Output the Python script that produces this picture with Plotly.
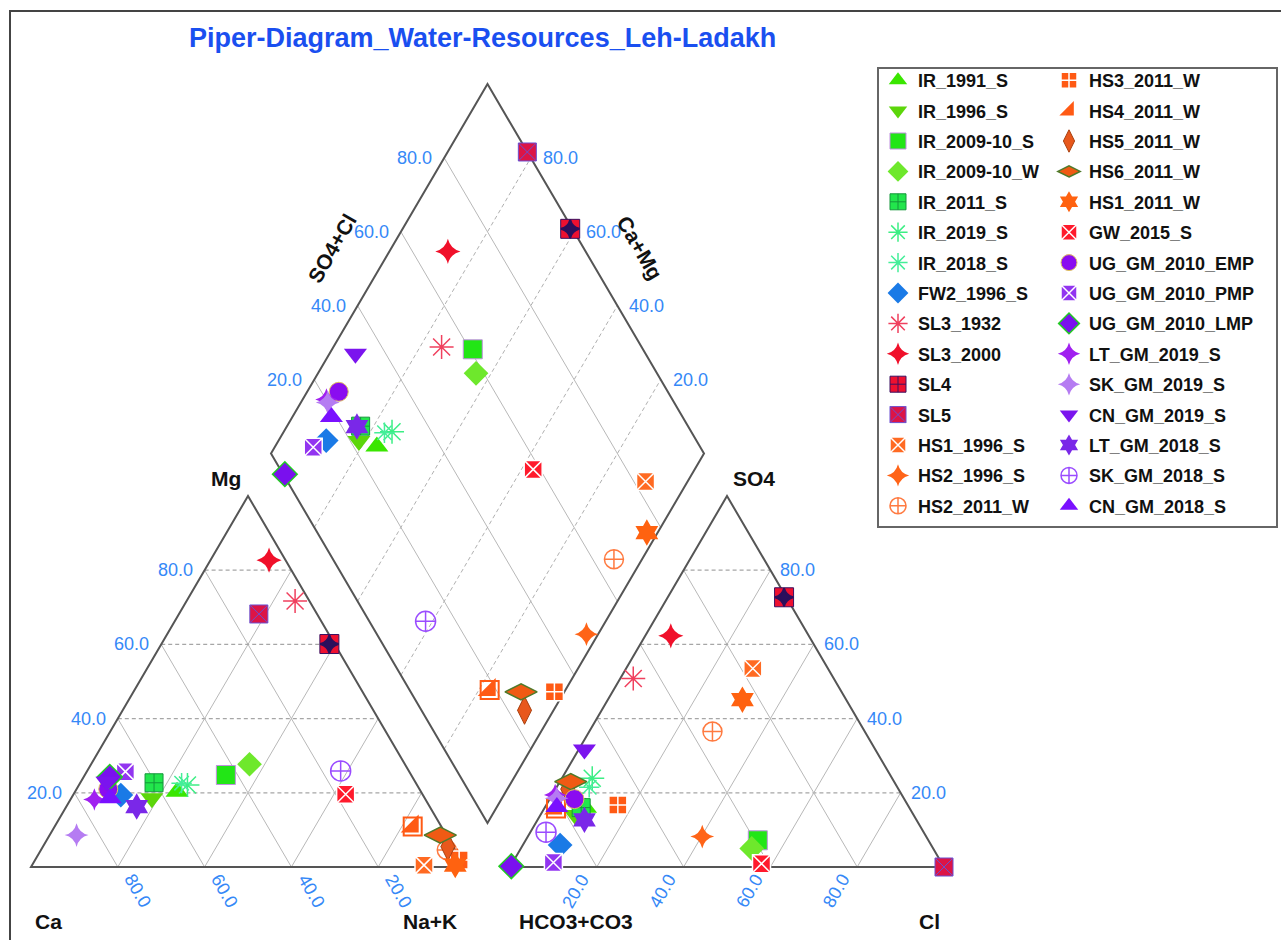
import plotly.graph_objects as go

# ---- sample chemistry (percent of meq/L) ----
names = [
    "IR_1991_S", "IR_1996_S", "IR_2009-10_S", "IR_2009-10_W", "IR_2011_S",
    "IR_2019_S", "IR_2018_S", "FW2_1996_S", "SL3_1932", "SL3_2000",
    "SL4", "SL5", "HS1_1996_S", "HS2_1996_S", "HS2_2011_W",
    "HS3_2011_W", "HS4_2011_W", "HS5_2011_W", "HS6_2011_W", "HS1_2011_W",
    "GW_2015_S", "UG_GM_2010_EMP", "UG_GM_2010_PMP", "UG_GM_2010_LMP", "LT_GM_2019_S",
    "SK_GM_2019_S", "CN_GM_2019_S", "LT_GM_2018_S", "SK_GM_2018_S", "CN_GM_2018_S",
]
# cations
ca = [56.2, 62.9, 42.7, 35.8, 60.3, 52.9, 54.0, 69.6, 3.3, 3.8,
      1.2, 13.4, 9.2, 0.7, 1.9, 0.4, 6.6, 1.2, 1.4, 2.0,
      17.7, 71.7, 65.4, 69.7, 76.3, 85.2, 71.0, 67.5, 15.7, 72.5]
mg = [20.3, 18.5, 24.8, 27.7, 22.7, 22.1, 22.6, 19.4, 71.7, 82.7,
      60.1, 68.2, 0.5, 2.0, 4.6, 1.9, 10.9, 5.5, 8.6, 0.5,
      19.6, 21.0, 25.7, 24.3, 18.2, 8.6, 23.0, 16.3, 25.9, 18.5]
na_k = [23.5, 18.6, 32.5, 36.5, 17.0, 25.0, 23.4, 11.0, 25.0, 13.5,
        38.7, 18.4, 90.3, 97.3, 93.5, 97.7, 82.5, 93.3, 90.0, 97.5,
        62.7, 7.3, 8.9, 6.0, 5.5, 6.2, 6.0, 16.2, 58.4, 9.0]
# anions
hco3_co3 = [74.6, 78.0, 39.3, 41.8, 75.6, 69.1, 71.0, 85.5, 46.2, 31.8,
            0.5, 0.0, 17.3, 51.6, 35.1, 66.8, 81.5, 76.2, 74.5, 23.9,
            41.6, 76.0, 89.4, 99.6, 79.9, 80.0, 67.0, 76.5, 87.0, 81.1]
so4 = [16.0, 14.0, 7.2, 5.0, 16.0, 23.9, 21.5, 5.9, 50.8, 62.3,
       72.7, 0.0, 53.5, 8.2, 36.5, 16.7, 15.8, 21.0, 23.0, 45.1,
       0.9, 18.3, 1.2, 0.2, 19.4, 18.5, 31.7, 12.7, 9.4, 16.2]
cl = [9.4, 8.0, 53.5, 53.2, 8.4, 7.0, 7.5, 8.6, 3.0, 5.9,
      26.8, 100.0, 29.2, 40.2, 28.4, 16.5, 2.7, 2.8, 2.5, 31.0,
      57.5, 5.7, 9.4, 0.2, 0.7, 1.5, 1.3, 10.8, 3.6, 2.7]

tick_values = [20, 40, 60, 80]

# ---- marker styles ----
symbols = [
    "triangle-up", "triangle-down", "square", "diamond", "square-cross",
    "asterisk-open", "asterisk-open", "diamond", "asterisk-open", "star-diamond",
    "square-cross", "square-x", "square-x", "star-diamond", "circle-cross-open",
    "square-cross", "triangle-se", "diamond-tall", "diamond-wide", "hexagram",
    "square-x", "circle", "square-x", "diamond", "star-diamond",
    "star-diamond", "triangle-down", "hexagram", "circle-cross-open", "triangle-up",
]
colors = [
    "#3ae600", "#5cd60a", "#22e616", "#6ee82c", "#22e64c",
    "#3cee84", "#44ee99", "#1a7ae6", "#f0405e", "#f0102a",
    "#ee1030", "#dc1446", "#ff6a22", "#ff6418", "#ff7a40",
    "#ff5a14", "#ff5a14", "#e8581c", "#f05a14", "#ff6210",
    "#ff1a2c", "#8a0cf0", "#9234f0", "#7a10ee", "#a020f0",
    "#b57cf2", "#7b14ee", "#7a28e8", "#9a4cff", "#7a10ff",
]
line_colors = [
    "#3ae600", "#5cd60a", "#c090e0", "#6ee82c", "#14963a",
    "#3cee84", "#44ee99", "#1a7ae6", "#f0405e", "#f0102a",
    "#3a1060", "#6a4fd0", "#ffffff", "#ff6418", "#ff7a40",
    "#ffffff", "#ff5a14", "#a8400f", "#4f7a2a", "#ff6210",
    "#ffffff", "#e0c060", "#ffffff", "#22cc22", "#a020f0",
    "#b57cf2", "#7b14ee", "#7a28e8", "#9a4cff", "#7a10ff",
]
line_widths = [
    0, 0, 1, 0, 1,
    1.5, 1.5, 0, 1.5, 0,
    1, 1, 1.5, 0, 1.5,
    1.5, 0, 1, 1.5, 0,
    1.5, 1, 1.5, 1.5, 0,
    0, 0, 0, 1.5, 0,
]
sizes = [
    20, 20, 19, 19, 18,
    20, 17, 19, 20, 18,
    19, 18, 18, 17, 19,
    18, 20, 20, 23, 20,
    18, 19, 18, 19, 16,
    17, 20, 20, 20, 20,
]
# extra glyph drawn on top of a series' markers (symbol, size, colour)
overlays = {
    "SL4": ("star-diamond", 13, "#2b0f5c"),
    "HS4_2011_W": ("square-open", 18, "#ff5a14"),
}

# ---- diagram geometry (figure pixels, y measured up from the bottom edge) ----
FIG_W, FIG_H = 1281, 940
SIDE = 434.0          # triangle side
TRI_H = 371.0         # triangle height
BASE_Y = 73.0         # base of both triangles
CAT_X0 = 31.0         # Ca corner
AN_X0 = 510.0         # HCO3+CO3 corner
D_BX, D_BY = 487.5, 117.0   # diamond bottom corner
D_HW, D_HH = 216.5, 369.5   # diamond half width / half height

FONT = "Liberation Sans, Arial, sans-serif"
TICK_COLOR = "#3588f7"
OUTLINE = "#555555"


def cation_xy(m, n):
    return CAT_X0 + SIDE * (n + m / 2) / 100, BASE_Y + TRI_H * m / 100


def anion_xy(s, c):
    return AN_X0 + SIDE * (c + s / 2) / 100, BASE_Y + TRI_H * s / 100


def diamond_xy(a, b):
    # a = SO4+Cl, b = Ca+Mg
    return D_BX + D_HW * (a - b) / 100, D_BY + D_HH * (a + b) / 100


shapes = []


def seg(p, q, color="#b8b8b8", width=1, dash="solid"):
    shapes.append(dict(type="line", x0=p[0], y0=p[1], x1=q[0], y1=q[1],
                       xref="x", yref="y", layer="below",
                       line=dict(color=color, width=width, dash=dash)))


def poly(pts, color=OUTLINE, width=2):
    path = "M " + " L ".join(f"{x},{y}" for x, y in pts) + " Z"
    shapes.append(dict(type="path", path=path, xref="x", yref="y", layer="below",
                       line=dict(color=color, width=width)))


# grid lines
for v in tick_values:
    # cation triangle
    seg(cation_xy(v, 0), cation_xy(v, 100 - v), "#a6a6a6", 1.2, "4px,3px")
    seg(cation_xy(0, 100 - v), cation_xy(100 - v, 0))          # Ca = v
    seg(cation_xy(0, v), cation_xy(100 - v, v))                # Na+K = v
    # anion triangle
    seg(anion_xy(v, 0), anion_xy(v, 100 - v), "#a6a6a6", 1.2, "4px,3px")
    seg(anion_xy(0, 100 - v), anion_xy(100 - v, 0))            # HCO3 = v
    seg(anion_xy(0, v), anion_xy(100 - v, v))                  # Cl = v
    # diamond
    seg(diamond_xy(v, 0), diamond_xy(v, 100))
    seg(diamond_xy(0, v), diamond_xy(100, v), "#b0b0b0", 1, "4px,3px")

# outlines
poly([cation_xy(0, 0), cation_xy(0, 100), cation_xy(100, 0)])
poly([anion_xy(0, 0), anion_xy(0, 100), anion_xy(100, 0)])
poly([diamond_xy(0, 0), diamond_xy(100, 0), diamond_xy(100, 100), diamond_xy(0, 100)])

# outer frame and legend box
shapes.append(dict(type="rect", x0=10, x1=FIG_W + 20, y0=-20, y1=FIG_H - 11,
                   xref="x", yref="y", layer="below",
                   line=dict(color="#444444", width=2)))
shapes.append(dict(type="rect", x0=878, x1=1277, y0=FIG_H - 527, y1=FIG_H - 68,
                   xref="x", yref="y", layer="below",
                   line=dict(color="#666666", width=2)))

annotations = []


def label(x, y, text, size=18, color=TICK_COLOR, bold=False, angle=0,
          xanchor="center", yanchor="middle"):
    annotations.append(dict(x=x, y=y, xref="x", yref="y", text=text, showarrow=False,
                            textangle=angle, xanchor=xanchor, yanchor=yanchor,
                            font=dict(family=FONT, size=size, color=color,
                                      weight="bold" if bold else "normal")))


for v in tick_values:
    txt = f"{v:.1f}"
    # Mg along the left edge of the cation triangle
    ex, ey = cation_xy(v, 0)
    label(ex - 10, ey, txt, xanchor="right")
    # Ca along the base (100 at the Ca corner)
    bx, _ = cation_xy(0, 100 - v)
    label(bx + 20, BASE_Y - 24, txt, angle=60)
    # SO4 along the right edge of the anion triangle
    ex, ey = anion_xy(v, 100 - v)
    label(ex + 8, ey, txt, xanchor="left")
    # Cl along the base
    bx, _ = anion_xy(0, v)
    label(bx - 21, BASE_Y - 24, txt, angle=-60)
    # diamond: SO4+Cl on the upper-left edge, Ca+Mg on the upper-right edge
    ex, ey = diamond_xy(v, 100)
    label(ex - 10, ey, txt, xanchor="right")
    ex, ey = diamond_xy(100, v)
    label(ex + 10, ey, txt, xanchor="left")

# axis names
AX = dict(size=21, color="#111111", bold=True)
label(225.5, FIG_H - 478, "Mg", **AX)
label(48, FIG_H - 921, "Ca", **AX)
label(430, FIG_H - 921, "Na+K", **AX)
label(753.5, FIG_H - 478, "SO4", **AX)
label(575.5, FIG_H - 921, "HCO3+CO3", **AX)
label(929, FIG_H - 921, "Cl", **AX)
label(331.7, FIG_H - 248, "SO4+Cl", angle=-60, **AX)
label(640, FIG_H - 247, "Ca+Mg", angle=60, **AX)

# title
label(482, FIG_H - 38, "Piper-Diagram_Water-Resources_Leh-Ladakh",
      size=27, color="#1a4ff0", bold=True)

fig = go.Figure()
for i, name in enumerate(names):
    cx, cy = cation_xy(mg[i], na_k[i])
    axx, ayy = anion_xy(so4[i], cl[i])
    dx, dy = diamond_xy(so4[i] + cl[i], ca[i] + mg[i])
    xs, ys = [cx, axx, dx], [cy, ayy, dy]
    leg = "legend" if i < 15 else "legend2"
    fig.add_trace(go.Scatter(
        x=xs, y=ys, mode="markers", name=name, legendgroup=name, legend=leg,
        hovertemplate=name + "<extra></extra>",
        marker=dict(symbol=symbols[i], size=sizes[i], color=colors[i],
                    line=dict(color=line_colors[i], width=line_widths[i])),
    ))
    if name in overlays:
        sym, sz, col = overlays[name]
        fig.add_trace(go.Scatter(
            x=xs, y=ys, mode="markers", name=name, legendgroup=name, legend=leg,
            showlegend=False, hoverinfo="skip",
            marker=dict(symbol=sym, size=sz, color=col, line=dict(color=col, width=2)),
        ))

legend_style = dict(
    xanchor="left", yanchor="top", y=1 - 62 / FIG_H,
    bgcolor="rgba(0,0,0,0)", borderwidth=0, tracegroupgap=4,
    font=dict(family=FONT, size=18, color="#111111", weight="bold"),
)

fig.update_layout(
    width=FIG_W, height=FIG_H,
    margin=dict(l=0, r=0, t=0, b=0),
    paper_bgcolor="white", plot_bgcolor="white",
    xaxis=dict(range=[0, FIG_W], visible=False, fixedrange=True),
    yaxis=dict(range=[0, FIG_H], visible=False, fixedrange=True),
    shapes=shapes, annotations=annotations,
    legend=dict(x=878 / FIG_W, **legend_style),
    legend2=dict(x=1049 / FIG_W, **legend_style),
    showlegend=True,
)

fig.write_html("out.html")
